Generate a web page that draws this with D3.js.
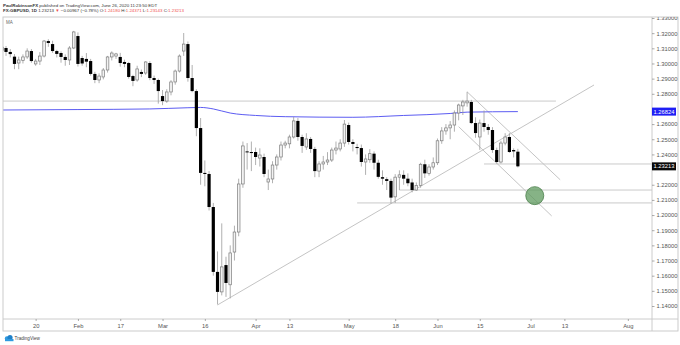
<!DOCTYPE html>
<html><head><meta charset="utf-8">
<script src="https://cdn.jsdelivr.net/npm/d3@7"></script>
<style>html,body{margin:0;padding:0;background:#fff;}svg{display:block;font-family:"Liberation Sans",Arial,sans-serif;}</style>
</head><body><svg id="c" width="680" height="345"></svg>
<script>
const dates = ["2020-01-08","2020-01-09","2020-01-10","2020-01-13","2020-01-14","2020-01-15","2020-01-16","2020-01-17","2020-01-20","2020-01-21","2020-01-22","2020-01-23","2020-01-24","2020-01-27","2020-01-28","2020-01-29","2020-01-30","2020-01-31",
"2020-02-03","2020-02-04","2020-02-05","2020-02-06","2020-02-07","2020-02-10","2020-02-11","2020-02-12","2020-02-13","2020-02-14","2020-02-17","2020-02-18","2020-02-19","2020-02-20","2020-02-21","2020-02-24","2020-02-25","2020-02-26","2020-02-27","2020-02-28",
"2020-03-02","2020-03-03","2020-03-04","2020-03-05","2020-03-06","2020-03-09","2020-03-10","2020-03-11","2020-03-12","2020-03-13","2020-03-16","2020-03-17","2020-03-18","2020-03-19","2020-03-20","2020-03-23","2020-03-24","2020-03-25","2020-03-26","2020-03-27","2020-03-30","2020-03-31",
"2020-04-01","2020-04-02","2020-04-03","2020-04-06","2020-04-07","2020-04-08","2020-04-09","2020-04-10","2020-04-13","2020-04-14","2020-04-15","2020-04-16","2020-04-17","2020-04-20","2020-04-21","2020-04-22","2020-04-23","2020-04-24","2020-04-27","2020-04-28","2020-04-29","2020-04-30",
"2020-05-01","2020-05-04","2020-05-05","2020-05-06","2020-05-07","2020-05-08","2020-05-11","2020-05-12","2020-05-13","2020-05-14","2020-05-15","2020-05-18","2020-05-19","2020-05-20","2020-05-21","2020-05-22","2020-05-25","2020-05-26","2020-05-27","2020-05-28","2020-05-29",
"2020-06-01","2020-06-02","2020-06-03","2020-06-04","2020-06-05","2020-06-08","2020-06-09","2020-06-10","2020-06-11","2020-06-12","2020-06-15","2020-06-16","2020-06-17","2020-06-18","2020-06-19","2020-06-22","2020-06-23","2020-06-24","2020-06-25","2020-06-26"];

const open = [1.3110,1.3102,1.3076,1.3045,1.3003,1.3020,1.3043,1.3082,1.2997,1.3016,1.3049,1.3148,1.3128,1.3082,1.3069,1.3043,1.3023,1.3102,
1.3181,1.3036,1.3030,1.3016,1.2931,1.2891,1.2911,1.2957,1.3043,1.3049,1.3043,1.3010,1.3003,1.2917,1.2891,1.2944,1.2937,1.3003,1.2904,1.2891,
1.2785,1.2752,1.2812,1.2878,1.2950,1.3082,1.3128,1.2904,1.2818,1.2574,1.2278,1.2271,1.2053,1.1625,1.1493,1.1670,1.1540,1.1756,1.1888,1.2205,1.2420,1.2416,
1.2416,1.2376,1.2383,1.2218,1.2238,1.2330,1.2383,1.2462,1.2470,1.2515,1.2621,1.2515,1.2449,1.2502,1.2436,1.2290,1.2337,1.2350,1.2363,1.2429,1.2436,1.2475,
1.2594,1.2482,1.2449,1.2442,1.2350,1.2365,1.2405,1.2345,1.2250,1.2237,1.2225,1.2120,1.2250,1.2265,1.2240,1.2215,1.2165,1.2195,1.2335,1.2275,1.2317,
1.2345,1.2490,1.2555,1.2575,1.2594,1.2673,1.2720,1.2740,1.2746,1.2607,1.2515,1.2607,1.2581,1.2561,1.2429,1.2350,1.2475,1.2515,1.2429,1.24180];

const high = [1.3125,1.3115,1.3095,1.3062,1.3045,1.3060,1.3100,1.3095,1.3030,1.3075,1.3155,1.3160,1.3150,1.3090,1.3080,1.3060,1.3115,1.3215,
1.3205,1.3050,1.3069,1.3030,1.2945,1.2935,1.2970,1.3050,1.3080,1.3070,1.3070,1.3025,1.3010,1.2925,1.2985,1.2960,1.3015,1.3015,1.2920,1.2900,
1.2825,1.2830,1.2890,1.2960,1.3060,1.3201,1.3145,1.2990,1.2830,1.2640,1.2360,1.2290,1.2080,1.1760,1.1945,1.1725,1.1800,1.1930,1.2240,1.2485,1.2475,1.2485,
1.2445,1.2440,1.2405,1.2300,1.2355,1.2400,1.2485,1.2490,1.2530,1.2647,1.2640,1.2530,1.2540,1.2515,1.2450,1.2355,1.2390,1.2415,1.2445,1.2485,1.2500,1.2627,
1.2610,1.2500,1.2470,1.2465,1.2400,1.2435,1.2420,1.2365,1.2295,1.2250,1.2240,1.2270,1.2295,1.2295,1.2275,1.2240,1.2215,1.2345,1.2365,1.2335,1.2380,
1.2505,1.2580,1.2600,1.2620,1.2690,1.2735,1.2760,1.2813,1.2760,1.2645,1.2630,1.2690,1.2600,1.2580,1.2445,1.2490,1.2540,1.2540,1.2440,1.24371];

const low = [1.3050,1.3050,1.3040,1.2962,1.2962,1.3000,1.3030,1.3005,1.2985,1.2990,1.3040,1.3110,1.3070,1.3040,1.3005,1.2985,1.2990,1.3095,
1.2980,1.2985,1.2975,1.2920,1.2870,1.2870,1.2895,1.2940,1.3020,1.3030,1.2979,1.2975,1.2900,1.2850,1.2880,1.2910,1.2925,1.2890,1.2865,1.2735,
1.2725,1.2740,1.2790,1.2860,1.2940,1.3050,1.2880,1.2810,1.2520,1.2200,1.2190,1.2030,1.1600,1.1410,1.1470,1.1460,1.1450,1.1700,1.1860,1.2180,1.2300,1.2290,
1.2330,1.2320,1.2250,1.2165,1.2210,1.2300,1.2360,1.2440,1.2440,1.2505,1.2490,1.2410,1.2430,1.2410,1.2250,1.2250,1.2300,1.2330,1.2350,1.2400,1.2420,1.2450,
1.2465,1.2420,1.2400,1.2320,1.2265,1.2345,1.2300,1.2240,1.2200,1.2165,1.2075,1.2080,1.2165,1.2200,1.2190,1.2150,1.2160,1.2180,1.2245,1.2260,1.2300,
1.2330,1.2470,1.2530,1.2500,1.2550,1.2625,1.2660,1.2715,1.2600,1.2510,1.2430,1.2550,1.2530,1.2410,1.2340,1.2340,1.2460,1.2410,1.2380,1.23143];

const close = [1.3085,1.3076,1.3062,1.2997,1.3023,1.3043,1.3082,1.3016,1.3016,1.3049,1.3148,1.3135,1.3082,1.3063,1.3043,1.3023,1.3102,1.3208,
1.2997,1.3000,1.3012,1.2931,1.2891,1.2917,1.2957,1.3043,1.3069,1.3063,1.3003,1.2997,1.2911,1.2885,1.2964,1.2931,1.3010,1.2904,1.2891,1.2818,
1.2752,1.2812,1.2878,1.2950,1.3049,1.3128,1.2904,1.2818,1.2574,1.2278,1.2271,1.2053,1.1625,1.1493,1.1658,1.1552,1.1750,1.1888,1.2205,1.2456,1.2416,1.2409,
1.2383,1.2396,1.2271,1.2238,1.2330,1.2383,1.2462,1.2475,1.2515,1.2621,1.2515,1.2456,1.2502,1.2436,1.2290,1.2337,1.2350,1.2363,1.2429,1.2442,1.2475,1.2600,
1.2482,1.2469,1.2442,1.2350,1.2370,1.2405,1.2345,1.2252,1.2240,1.2225,1.2115,1.2250,1.2265,1.2240,1.2210,1.2165,1.2195,1.2335,1.2275,1.2317,1.2345,
1.2490,1.2555,1.2575,1.2594,1.2673,1.2726,1.2746,1.2752,1.2607,1.2541,1.2607,1.2581,1.2561,1.2429,1.2350,1.2475,1.2515,1.2416,1.2420,1.23213];

// 200-day moving average, read at a few dates
const maDates  = ["2020-01-08","2020-02-03","2020-02-26","2020-03-10","2020-03-13","2020-03-18","2020-03-24","2020-04-01","2020-04-10","2020-05-04","2020-05-20","2020-06-04","2020-06-10","2020-06-26"];
const maValues = [1.2693,1.2696,1.2700,1.2708,1.2710,1.2700,1.2673,1.2657,1.2649,1.2645,1.2657,1.2670,1.2679,1.26824];

const priceTicks = [1.14,1.15,1.16,1.17,1.18,1.19,1.20,1.21,1.22,1.23,1.24,1.25,1.26,1.27,1.28,1.29,1.30,1.31,1.32,1.33];
const timeTickDates  = ["2020-01-20","2020-02-03","2020-02-17","2020-03-02","2020-03-16","2020-04-01","2020-04-13","2020-05-01","2020-05-18","2020-06-01","2020-06-15","2020-07-01","2020-07-13","2020-08-03"];
const timeTickLabels = ["20","Feb","17","Mar","16","Apr","13","May","18","Jun","15","Jul","13","Aug"];

// horizontal levels
const levelPrices = [1.2752, 1.2337, 1.2165, 1.2080];
const levelStart  = ["2020-01-08","2020-06-16","2020-05-19","2020-05-05"];
const levelEnd    = ["2020-07-09", null, null, null];

// trend lines
const trendStartDate  = ["2020-03-19","2020-06-10","2020-06-08"];
const trendStartPrice = [1.1407, 1.2813, 1.2583];
const trendEndDate    = ["2020-07-22","2020-07-10","2020-07-08"];
const trendEndPrice   = [1.2858, 1.2233, 1.1994];

const targetDate = "2020-07-02", targetPrice = 1.2128;
const lastPrice = 1.23213, maLast = 1.26824;

const svg = d3.select("#c");
const L = 3, R = 652, T = 17, B = 319, RE = 678, BE = 331;

const parse = d3.utcParse("%Y-%m-%d"), fmt = d3.utcFormat("%Y-%m-%d");
const calendar = d3.utcDays(parse("2020-01-08"), parse("2020-08-20")).filter(d => d.getUTCDay() % 6 !== 0);
const idx = new Map(calendar.map((d, i) => [fmt(d), i]));
const x = d3.scaleLinear().domain([0, 148]).range([1.8, 1.8 + 148 * 4.23]);
const X = d => x(idx.get(d));
const y = d3.scaleLinear().domain([1.14, 1.33]).range([306, 18]);

svg.append("defs").append("clipPath").attr("id", "plot")
  .append("rect").attr("x", L).attr("y", T).attr("width", R - L).attr("height", B - T);
svg.select("defs").append("clipPath").attr("id", "paxis")
  .append("rect").attr("x", R).attr("y", T).attr("width", RE - R).attr("height", B - T);

// header
const h1 = svg.append("text").attr("x", 3).attr("y", 6.5).attr("font-size", 4.4).attr("fill", "#333");
h1.append("tspan").attr("font-weight", "bold").text("PaulRobinsonFX");
h1.append("tspan").text(" published on TradingView.com, June 26, 2020 11:23:50 EDT");
const red = "#ef4f4f";
const h2 = svg.append("text").attr("x", 3).attr("y", 12.3).attr("font-size", 4.4).attr("fill", "#333");
h2.append("tspan").attr("font-weight", "bold").text("FX:GBPUSD, 1D");
h2.append("tspan").text(" 1.23213 ");
h2.append("tspan").attr("fill", red).text("▼");
h2.append("tspan").text(" −0.00967 (−0.78%) O:");
h2.append("tspan").attr("fill", red).text("1.24180");
h2.append("tspan").text(" H:");
h2.append("tspan").attr("fill", red).text("1.24371");
h2.append("tspan").text(" L:");
h2.append("tspan").attr("fill", red).text("1.23143");
h2.append("tspan").text(" C:");
h2.append("tspan").attr("fill", red).text("1.23213");

const plot = svg.append("g").attr("clip-path", "url(#plot)");
plot.append("text").attr("x", 6).attr("y", 24).attr("font-size", 4.5).attr("fill", "#666").text("MA");

// levels
plot.selectAll("line.lvl").data(levelPrices).join("line").attr("class", "lvl")
  .attr("x1", (d, i) => i === 0 ? L : X(levelStart[i]))
  .attr("x2", (d, i) => levelEnd[i] ? X(levelEnd[i]) : R)
  .attr("y1", d => y(d)).attr("y2", d => y(d))
  .attr("stroke", "#c4c4c4").attr("stroke-width", 0.9);

// trend lines
plot.selectAll("line.tr").data(trendStartDate).join("line").attr("class", "tr")
  .attr("x1", d => X(d)).attr("y1", (d, i) => y(trendStartPrice[i]))
  .attr("x2", (d, i) => X(trendEndDate[i])).attr("y2", (d, i) => y(trendEndPrice[i]))
  .attr("stroke", "#bdbdbd").attr("stroke-width", 0.9);

// MA line
plot.append("path").datum(maDates)
  .attr("d", d3.line().x(d => X(d)).y((d, i) => y(maValues[i])).curve(d3.curveMonotoneX))
  .attr("fill", "none").attr("stroke", "#5c5cf2").attr("stroke-width", 1);

// candles
const cg = plot.append("g");
dates.forEach((d, i) => {
  const cx = X(d), up = close[i] >= open[i];
  cg.append("line").attr("x1", cx).attr("x2", cx).attr("y1", y(high[i])).attr("y2", y(low[i]))
    .attr("stroke", "#9c9c9c").attr("stroke-width", 0.8);
  const y0 = y(Math.max(open[i], close[i])), y1 = y(Math.min(open[i], close[i]));
  const hgt = Math.max(1, y1 - y0);
  if (up) {
    cg.append("rect").attr("x", cx - 1.3).attr("y", y0).attr("width", 2.6).attr("height", hgt)
      .attr("fill", "#f2f2f2").attr("stroke", "#7c7c7c").attr("stroke-width", 0.7);
  } else {
    cg.append("rect").attr("x", cx - 1.6).attr("y", y0).attr("width", 3.2).attr("height", hgt)
      .attr("fill", "#000");
  }
});

// target circle
plot.append("circle").attr("cx", X(targetDate)).attr("cy", y(targetPrice)).attr("r", 9)
  .attr("fill", "#5e9a5e").attr("fill-opacity", 0.75).attr("stroke", "#4a7f4a").attr("stroke-width", 0.8);

// frame
const fc = "#c6c6c6";
svg.append("rect").attr("x", L).attr("y", T).attr("width", RE - L).attr("height", BE - T)
  .attr("fill", "none").attr("stroke", fc).attr("stroke-width", 0.9);
svg.append("line").attr("x1", R).attr("x2", R).attr("y1", T).attr("y2", BE).attr("stroke", fc).attr("stroke-width", 0.9);
svg.append("line").attr("x1", L).attr("x2", RE).attr("y1", B).attr("y2", B).attr("stroke", fc).attr("stroke-width", 0.9);

// price axis (ticks hidden under the value boxes are left out, as the chart does)
const boxed = [maLast, lastPrice];
const shownTicks = priceTicks.filter(t => boxed.every(v => Math.abs(y(t) - y(v)) > 7));
const pa = svg.append("g").attr("clip-path", "url(#paxis)").append("g").attr("transform", `translate(${R},0)`)
  .call(d3.axisRight(y).tickValues(shownTicks).tickFormat(d3.format(".5f")).tickSize(2.5).tickPadding(2));
pa.select(".domain").remove();
pa.selectAll("line").attr("stroke", "#888").attr("stroke-width", 0.7);
pa.selectAll("text").attr("font-size", 5.8).attr("fill", "#555").attr("font-family", "Liberation Sans, Arial, sans-serif");

// price labels
[[maLast, "#1f1ff5"], [lastPrice, "#0a0a0a"]].forEach(([v, col]) => {
  svg.append("rect").attr("x", R).attr("y", y(v) - 4).attr("width", 24).attr("height", 8).attr("fill", col);
  svg.append("text").attr("x", R + 12).attr("y", y(v)).attr("dy", "0.35em").attr("text-anchor", "middle")
    .attr("font-size", 5.8).attr("fill", "#fff").text(d3.format(".5f")(v));
});

// time axis
const ta = svg.append("g").attr("transform", `translate(0,${B})`)
  .call(d3.axisBottom(x).tickValues(timeTickDates.map(d => idx.get(d)))
    .tickFormat((d, i) => timeTickLabels[i]).tickSize(2).tickPadding(2.5));
ta.select(".domain").remove();
ta.selectAll("line").attr("stroke", "#888").attr("stroke-width", 0.7);
ta.selectAll("text").attr("font-size", 5.8).attr("fill", "#555").attr("font-family", "Liberation Sans, Arial, sans-serif");

// TradingView mark
const lg = svg.append("g").attr("transform", "translate(4,335)");
lg.append("circle").attr("cx", 3).attr("cy", 3.5).attr("r", 2.2).attr("fill", "#2f9ae0");
lg.append("circle").attr("cx", 6).attr("cy", 2.6).attr("r", 2.6).attr("fill", "#1f80c8");
lg.append("rect").attr("x", 1).attr("y", 4).attr("width", 8.5).attr("height", 2.2).attr("fill", "#2f9ae0");
svg.append("text").attr("x", 14.5).attr("y", 340.2).attr("font-size", 4.6).attr("fill", "#444").text("TradingView");
</script></body></html>
